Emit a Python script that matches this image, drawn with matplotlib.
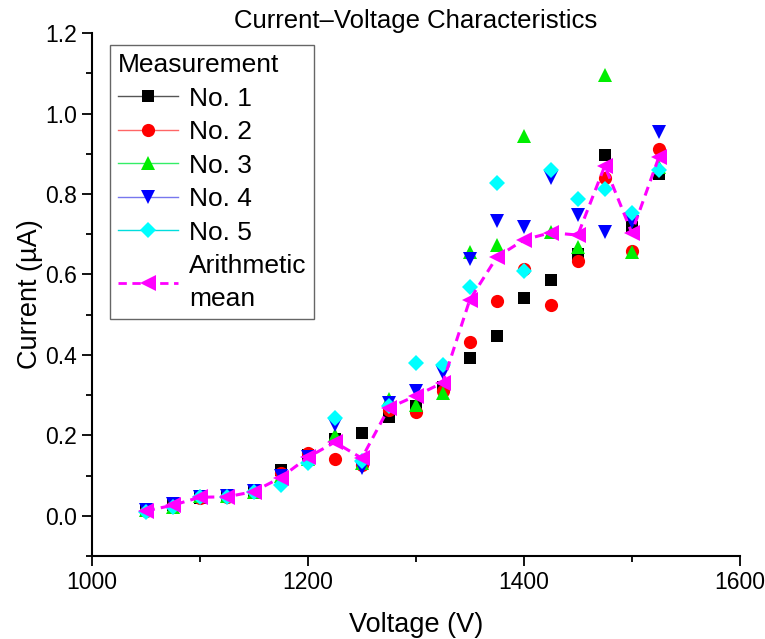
import matplotlib
matplotlib.use("Agg")
import matplotlib.pyplot as plt
from matplotlib.lines import Line2D
from matplotlib.ticker import MultipleLocator, FormatStrFormatter

plt.rcParams['font.family'] = ['Liberation Sans', 'DejaVu Sans']

voltage = [1050, 1075, 1100, 1125, 1150, 1175, 1200, 1225, 1250, 1275,
           1300, 1325, 1350, 1375, 1400, 1425, 1450, 1475, 1500, 1525]

no1 = [0.012, 0.027, 0.045, 0.047, 0.060, 0.114, 0.150, 0.190, 0.205, 0.245,
       0.272, 0.321, 0.392, 0.446, 0.542, 0.586, 0.651, 0.897, 0.719, 0.850]
no2 = [0.012, 0.025, 0.044, 0.046, 0.058, 0.106, 0.157, 0.142, 0.127, 0.262,
       0.259, 0.309, 0.433, 0.535, 0.613, 0.524, 0.634, 0.841, 0.659, 0.911]
no3 = [0.015, 0.022, 0.048, 0.049, 0.058, 0.100, 0.140, 0.200, 0.130, 0.290,
       0.276, 0.306, 0.655, 0.674, 0.944, 0.706, 0.669, 1.096, 0.657, 0.868]
no4 = [0.013, 0.028, 0.046, 0.048, 0.061, 0.100, 0.145, 0.225, 0.118, 0.280,
       0.309, 0.355, 0.638, 0.734, 0.719, 0.839, 0.748, 0.706, 0.731, 0.955]
no5 = [0.010, 0.022, 0.046, 0.046, 0.058, 0.077, 0.132, 0.243, 0.135, 0.272,
       0.380, 0.376, 0.568, 0.828, 0.609, 0.860, 0.787, 0.812, 0.752, 0.860]
mean = [0.012, 0.026, 0.046, 0.047, 0.060, 0.095, 0.145, 0.183, 0.143, 0.268,
        0.298, 0.331, 0.537, 0.643, 0.686, 0.704, 0.698, 0.870, 0.704, 0.891]

series = [
    ("No. 1", no1, 's', '#000000', '#555555', 8.5),
    ("No. 2", no2, 'o', '#ff0000', '#ff6666', 9.5),
    ("No. 3", no3, '^', '#00ee00', '#33ee66', 10.5),
    ("No. 4", no4, 'v', '#0000ff', '#7777ee', 10.5),
    ("No. 5", no5, 'D', '#00ffff', '#00dddd', 8.5),
]

fig = plt.figure(figsize=(7.65, 6.39), dpi=100)
ax = fig.add_axes([0.120, 0.130, 0.847, 0.818])

handles = []
for label, vals, mk, col, lcol, ms in series:
    ax.plot(voltage, vals, linestyle='none', marker=mk, color=col,
            markersize=ms, markeredgewidth=0)
    handles.append(Line2D([], [], color=lcol, linewidth=1.0, marker=mk,
                          markerfacecolor=col, markeredgewidth=0,
                          markersize=ms, label=label))

ax.plot(voltage, mean, linestyle=(0, (3, 2)), linewidth=2.2, color='#ff00ff',
        marker='<', markersize=11, markeredgewidth=0)
handles.append(Line2D([], [], color='#ff00ff', linewidth=2.0,
                      linestyle=(0, (3, 2)), marker='<', markersize=11,
                      markeredgewidth=0, label='Arithmetic\nmean'))

ax.set_xlim(1000, 1600)
ax.set_ylim(-0.1, 1.2)
ax.xaxis.set_major_locator(MultipleLocator(200))
ax.xaxis.set_minor_locator(MultipleLocator(100))
ax.yaxis.set_major_locator(MultipleLocator(0.2))
ax.yaxis.set_minor_locator(MultipleLocator(0.1))
ax.yaxis.set_major_formatter(FormatStrFormatter('%.1f'))

for s in ['top', 'right']:
    ax.spines[s].set_visible(False)
for s in ['left', 'bottom']:
    ax.spines[s].set_linewidth(1.5)

ax.tick_params(axis='both', which='major', direction='out', length=7,
               width=1.3, labelsize=16.5)
ax.tick_params(axis='both', which='minor', direction='out', length=4.5,
               width=1.3)

ax.set_xlabel('Voltage (V)', fontsize=19.5, labelpad=13)
ax.set_ylabel('Current (µA)', fontsize=19.5, labelpad=2)
ax.set_title('Current–Voltage Characteristics', fontsize=18.5, pad=3)

leg = ax.legend(handles=handles, title='Measurement', loc='upper left',
                bbox_to_anchor=(0.0278, 0.977), borderaxespad=0,
                fontsize=19, title_fontsize=19,
                handlelength=2.3, handletextpad=0.4, labelspacing=0.36,
                borderpad=0.3, fancybox=False, framealpha=1,
                edgecolor='#666666')
leg._legend_box.align = 'left'
leg.get_frame().set_linewidth(1.0)
leg.get_texts()[-1].set_linespacing(1.45)

fig.savefig('out.png', dpi=100)
